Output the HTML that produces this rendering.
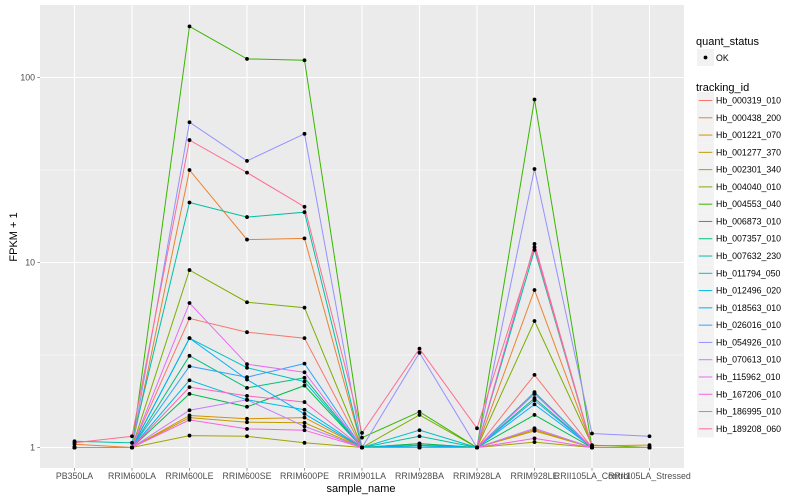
<!DOCTYPE html>
<html><head><meta charset="utf-8"><style>
body{margin:0;background:#fff;}
svg{display:block;font-family:"Liberation Sans",sans-serif;}
</style></head><body>
<svg id="chart" width="800" height="500">
<rect x="40" y="5" width="644" height="463" fill="#ebebeb"/>
<g id="grid"></g><g id="series"></g><g id="axes"></g><g id="legend"></g>
</svg>
<script>
const categories=["PB350LA","RRIM600LA","RRIM600LE","RRIM600SE","RRIM600PE","RRIM901LA","RRIM928BA","RRIM928LA","RRIM928LE","RRII105LA_Control","RRII105LA_Stressed"];
const trackingIds=["Hb_000319_010","Hb_000438_200","Hb_001221_070","Hb_001277_370","Hb_002301_340","Hb_004040_010","Hb_004553_040","Hb_006873_010","Hb_007357_010","Hb_007632_230","Hb_011794_050","Hb_012496_020","Hb_018563_010","Hb_026016_010","Hb_054926_010","Hb_070613_010","Hb_115962_010","Hb_167206_010","Hb_186995_010","Hb_189208_060"];
const colors=["#F8766D","#EA8331","#D89000","#C09B00","#A3A500","#7CAE00","#39B600","#00BB4E","#00BF7D","#00C1A3","#00BFC4","#00BAE0","#00B0F6","#35A2FF","#9590FF","#C77CFF","#E76BF3","#FA62DB","#FF62BC","#FF6C91"];
const s000319=[1.0,1.0,4.99,4.2,3.9,1.0,1.0,1.0,2.47,1.0,1.0];
const s000438=[1.04,1.0,31.6,13.3,13.5,1.0,1.05,1.0,7.1,1.02,1.03];
const s001221=[1.0,1.0,1.49,1.43,1.45,1.0,1.0,1.0,1.25,1.0,1.0];
const s001277=[1.0,1.0,1.45,1.37,1.36,1.0,1.0,1.0,1.23,1.0,1.0];
const s002301=[1.0,1.0,1.16,1.15,1.06,1.0,1.0,1.0,1.07,1.0,1.0];
const s004040=[1.0,1.0,9.1,6.1,5.7,1.0,1.5,1.0,4.83,1.03,1.0];
const s004553=[1.0,1.0,189,126,124,1.13,1.56,1.0,76,1.0,1.0];
const s006873=[1.0,1.0,1.95,1.66,2.16,1.0,1.05,1.0,1.5,1.0,1.0];
const s007357=[1.0,1.0,3.13,2.1,2.38,1.0,1.02,1.0,1.85,1.0,1.0];
const s007632=[1.08,1.06,21.1,17.6,18.7,1.0,1.15,1.0,11.7,1.0,1.0];
const s011794=[1.0,1.0,3.9,2.7,2.27,1.0,1.24,1.0,1.99,1.0,1.0];
const s012496=[1.0,1.0,2.31,1.81,1.6,1.0,1.03,1.0,1.95,1.0,1.0];
const s018563=[1.0,1.0,3.9,2.33,1.52,1.0,1.02,1.0,1.71,1.0,1.0];
const s026016=[1.0,1.0,2.75,2.4,2.84,1.0,1.0,1.0,1.8,1.0,1.0];
const s054926=[1.0,1.0,57.3,35.4,49.6,1.0,3.25,1.0,32,1.19,1.15];
const s070613=[1.0,1.0,1.59,1.81,1.3,1.0,1.0,1.0,1.27,1.0,1.0];
const s115962=[1.0,1.0,6.04,2.82,2.55,1.0,1.0,1.0,1.95,1.0,1.0];
const s167206=[1.0,1.0,1.41,1.26,1.24,1.0,1.0,1.0,1.12,1.0,1.0];
const s186995=[1.0,1.0,2.12,1.9,1.76,1.0,1.0,1.0,12.6,1.0,1.0];
const s189208=[1.06,1.15,45.9,30.6,20,1.2,3.42,1.27,12.1,1.0,1.0];
const seriesValues=[s000319,s000438,s001221,s001277,s002301,s004040,s004553,s006873,s007357,s007632,s011794,s012496,s018563,s026016,s054926,s070613,s115962,s167206,s186995,s189208];
const yTicks=[1,10,100];
const yMinor=[3.1623,31.623];

const NS="http://www.w3.org/2000/svg";
const L=40,R=684,T=5,B=468;
const step=(R-L)/(categories.length+0.2);
function xs(i){return L+step*(i+0.6);}
function ys(v){return 447.5-185*Math.log10(v);}
function mk(tag,attrs,parent,text){const e=document.createElementNS(NS,tag);for(const k in attrs)e.setAttribute(k,attrs[k]);if(text!==undefined)e.textContent=text;parent.appendChild(e);return e;}
const grid=document.getElementById('grid'),ser=document.getElementById('series'),ax=document.getElementById('axes'),lg=document.getElementById('legend');
yMinor.forEach(v=>{const e=mk('line',{x1:L,x2:R,y1:ys(v),y2:ys(v),stroke:'#fff','stroke-width':0.5},grid);

});
yTicks.forEach(v=>{const e=mk('line',{x1:L,x2:R,y1:ys(v),y2:ys(v),stroke:'#fff','stroke-width':1.1},grid);


const t=mk('text',{x:35,y:ys(v)+3,'text-anchor':'end','font-size':'8.8px',fill:'#4d4d4d'},ax,String(v));


mk('line',{x1:37.3,x2:L,y1:ys(v),y2:ys(v),stroke:'#333','stroke-width':0.5},ax);});
categories.forEach((c,i)=>{const e=mk('line',{x1:xs(i),x2:xs(i),y1:T,y2:B,stroke:'#fff','stroke-width':1.1},grid);


mk('line',{x1:xs(i),x2:xs(i),y1:B,y2:B+2.7,stroke:'#333','stroke-width':0.5},ax);
const t=mk('text',{x:xs(i),y:479,'text-anchor':'middle','font-size':'8.8px',fill:'#4d4d4d'},ax,c);

});
seriesValues.forEach((vals,k)=>{const pts=vals.map((v,i)=>xs(i).toFixed(1)+','+ys(v).toFixed(1)).join(' ');
const p=mk('polyline',{points:pts,fill:'none',stroke:colors[k],'stroke-width':1},ser);

});
seriesValues.forEach((vals,k)=>{vals.forEach((v,i)=>{const c=mk('circle',{cx:xs(i),cy:ys(v),r:1.9,fill:'#000'},ser);

});});
let t=mk('text',{x:361,y:492,'text-anchor':'middle','font-size':'11px',fill:'#000'},ax,'sample_name');


t=mk('text',{x:17,y:237,'text-anchor':'middle','font-size':'11px',fill:'#000',transform:'rotate(-90 17 237)'},ax,'FPKM + 1');


// legend
t=mk('text',{x:696,y:45,'font-size':'11px',fill:'#000'},lg,'quant_status');


mk('rect',{x:697,y:49,width:17,height:17,fill:'#f2f2f2'},lg);
mk('circle',{cx:705.5,cy:57.5,r:1.9,fill:'#000'},lg);
t=mk('text',{x:716,y:61,'font-size':'8.8px',fill:'#000'},lg,'OK');


t=mk('text',{x:696,y:91,'font-size':'11px',fill:'#000'},lg,'tracking_id');


trackingIds.forEach((id,k)=>{const y=100.5+k*17.28;
mk('rect',{x:697,y:y-8.6,width:17,height:17.2,fill:'#f2f2f2'},lg);
mk('line',{x1:698.7,x2:712.3,y1:y,y2:y,stroke:colors[k],'stroke-width':1},lg);
const e=mk('text',{x:716,y:y+3,'font-size':'8.8px',fill:'#000'},lg,id);

});
</script>
</body></html>
